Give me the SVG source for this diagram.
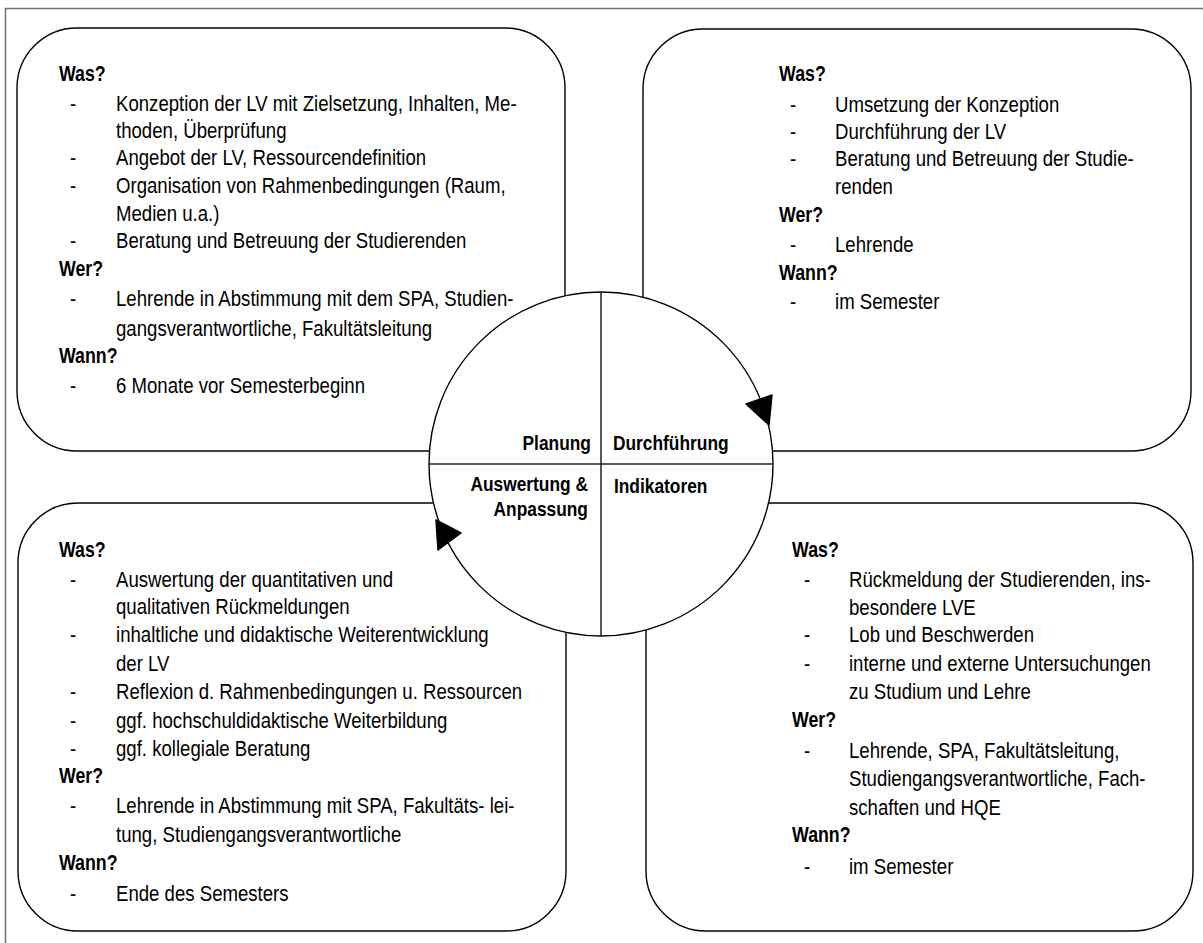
<svg xmlns="http://www.w3.org/2000/svg" width="1203" height="943" viewBox="0 0 1203 943">
<style>
.box{fill:#fff;stroke:#000;stroke-width:1.4}
.frame{stroke:#707070;stroke-width:1.5;fill:none}
.t{font-family:"Liberation Sans",Arial,sans-serif;font-size:22.5px;fill:#000}
.h{font-family:"Liberation Sans",Arial,sans-serif;font-size:21.5px;font-weight:bold;fill:#000}
.c{font-family:"Liberation Sans",Arial,sans-serif;font-size:21px;font-weight:bold;fill:#000}
.e{text-anchor:end}
.ring{fill:#fff;stroke:#000;stroke-width:1.4}
.cross{stroke:#222;stroke-width:1.5}
.ah{fill:#000;stroke:#000;stroke-width:1.5;stroke-linejoin:round}
</style>
<rect width="1203" height="943" fill="#fff"/>
<g id="frame">
<line class="frame" x1="5" y1="8.5" x2="1203" y2="8.5"/>
<line class="frame" x1="5.5" y1="8" x2="5.5" y2="943"/>
</g>
<g id="planung-box">
<rect class="box" x="17" y="28" width="548" height="423" rx="60" ry="60"/>
<g transform="scale(0.827 1)">
<text class="h" x="71.3" y="81">Was?</text>
<text class="t" x="84.6" y="111">-</text><text class="t" x="140.3" y="111">Konzeption der LV mit Zielsetzung, Inhalten, Me-</text>
<text class="t" x="140.3" y="138">thoden, Überprüfung</text>
<text class="t" x="84.6" y="165">-</text><text class="t" x="140.3" y="165">Angebot der LV, Ressourcendefinition</text>
<text class="t" x="84.6" y="193">-</text><text class="t" x="140.3" y="193">Organisation von Rahmenbedingungen (Raum,</text>
<text class="t" x="140.3" y="221">Medien u.a.)</text>
<text class="t" x="84.6" y="248">-</text><text class="t" x="140.3" y="248">Beratung und Betreuung der Studierenden</text>
<text class="h" x="71.3" y="276">Wer?</text>
<text class="t" x="84.6" y="306">-</text><text class="t" x="140.3" y="306">Lehrende in Abstimmung mit dem SPA, Studien-</text>
<text class="t" x="140.3" y="336">gangsverantwortliche, Fakultätsleitung</text>
<text class="h" x="71.3" y="363">Wann?</text>
<text class="t" x="84.6" y="393">-</text><text class="t" x="140.3" y="393">6 Monate vor Semesterbeginn</text>
</g>
</g>
<g id="durchfuehrung-box">
<rect class="box" x="643" y="29" width="548" height="422" rx="60" ry="60"/>
<g transform="scale(0.827 1)">
<text class="h" x="942" y="81">Was?</text>
<text class="t" x="955.3" y="112">-</text><text class="t" x="1009.7" y="112">Umsetzung der Konzeption</text>
<text class="t" x="955.3" y="139">-</text><text class="t" x="1009.7" y="139">Durchführung der LV</text>
<text class="t" x="955.3" y="166">-</text><text class="t" x="1009.7" y="166">Beratung und Betreuung der Studie-</text>
<text class="t" x="1009.7" y="194">renden</text>
<text class="h" x="942" y="222">Wer?</text>
<text class="t" x="955.3" y="252">-</text><text class="t" x="1009.7" y="252">Lehrende</text>
<text class="h" x="942" y="280">Wann?</text>
<text class="t" x="955.3" y="309">-</text><text class="t" x="1009.7" y="309">im Semester</text>
</g>
</g>
<g id="auswertung-box">
<rect class="box" x="18" y="503" width="548" height="428" rx="60" ry="60"/>
<g transform="scale(0.827 1)">
<text class="h" x="71.3" y="557">Was?</text>
<text class="t" x="84.6" y="587">-</text><text class="t" x="140.3" y="587">Auswertung der quantitativen und</text>
<text class="t" x="140.3" y="614">qualitativen Rückmeldungen</text>
<text class="t" x="84.6" y="642">-</text><text class="t" x="140.3" y="642">inhaltliche und didaktische Weiterentwicklung</text>
<text class="t" x="140.3" y="671">der LV</text>
<text class="t" x="84.6" y="699">-</text><text class="t" x="140.3" y="699">Reflexion d. Rahmenbedingungen u. Ressourcen</text>
<text class="t" x="84.6" y="728">-</text><text class="t" x="140.3" y="728">ggf. hochschuldidaktische Weiterbildung</text>
<text class="t" x="84.6" y="756">-</text><text class="t" x="140.3" y="756">ggf. kollegiale Beratung</text>
<text class="h" x="71.3" y="783">Wer?</text>
<text class="t" x="84.6" y="813">-</text><text class="t" x="140.3" y="813">Lehrende in Abstimmung mit SPA, Fakultäts- lei-</text>
<text class="t" x="140.3" y="842">tung, Studiengangsverantwortliche</text>
<text class="h" x="71.3" y="870">Wann?</text>
<text class="t" x="84.6" y="901">-</text><text class="t" x="140.3" y="901">Ende des Semesters</text>
</g>
</g>
<g id="indikatoren-box">
<rect class="box" x="646" y="503" width="547" height="428" rx="60" ry="60"/>
<g transform="scale(0.827 1)">
<text class="h" x="957.7" y="557">Was?</text>
<text class="t" x="972.2" y="587">-</text><text class="t" x="1026.6" y="587">Rückmeldung der Studierenden, ins-</text>
<text class="t" x="1026.6" y="615">besondere LVE</text>
<text class="t" x="972.2" y="642">-</text><text class="t" x="1026.6" y="642">Lob und Beschwerden</text>
<text class="t" x="972.2" y="671">-</text><text class="t" x="1026.6" y="671">interne und externe Untersuchungen</text>
<text class="t" x="1026.6" y="699">zu Studium und Lehre</text>
<text class="h" x="957.7" y="727">Wer?</text>
<text class="t" x="972.2" y="758">-</text><text class="t" x="1026.6" y="758">Lehrende, SPA, Fakultätsleitung,</text>
<text class="t" x="1026.6" y="786">Studiengangsverantwortliche, Fach-</text>
<text class="t" x="1026.6" y="815">schaften und HQE</text>
<text class="h" x="957.7" y="842">Wann?</text>
<text class="t" x="972.2" y="874">-</text><text class="t" x="1026.6" y="874">im Semester</text>
</g>
</g>
<g id="cycle">
<circle class="ring" cx="601" cy="464" r="172"/>
<line class="cross" x1="601" y1="292" x2="601" y2="636"/>
<line class="cross" x1="429" y1="464" x2="773" y2="464"/>
<g transform="scale(0.827 1)">
<text class="c e" x="714.6" y="450">Planung</text>
<text class="c" x="741.2" y="450">Durchführung</text>
<text class="c e" x="711" y="491">Auswertung &amp;</text>
<text class="c e" x="711" y="516">Anpassung</text>
<text class="c" x="742.4" y="493">Indikatoren</text>
</g>
</g>
<g id="connectors">
<polygon class="ah" points="746,404 772,395 769,425"/>
<polygon class="ah" points="436,520 461,533 438,550"/>
</g>
</svg>
